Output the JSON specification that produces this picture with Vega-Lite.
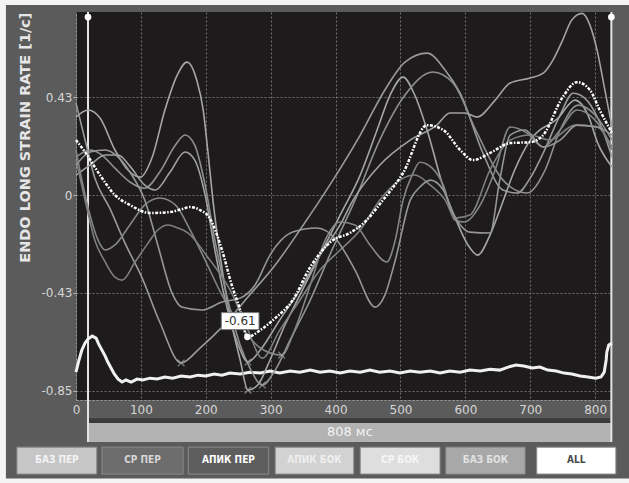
{
"$schema": "https://vega.github.io/schema/vega-lite/v6.json",
"width": 536, "height": 388,
"autosize": {"type": "none"},
"padding": {"left": 76, "top": 12, "right": 17, "bottom": 83},
"background": "#5b5b5b",
"config": {"view": {"fill": "#1e1b1c", "stroke": null}, "font": "DejaVu Sans"},
"datasets": {
"margins": [{"t": -130, "t2": 880, "v": 0.826, "v2": 0.95}, {"t": -130, "t2": -108, "v": 0.95, "v2": -1.35}, {"t": -130, "t2": 880, "v": -1.232, "v2": -1.35}],
"band": [{"t": 18.5, "t2": 826, "v": -0.970, "v2": -0.991}],
"bar": [{"t": 18.5, "t2": 826, "v": -0.991, "v2": -1.074}],
"barText": [{"t": 422, "v": -1.032, "label": "808 мс"}],
"buttons": [
{"name": "БАЗ ПЕР", "t": -91, "t2": 32, "v": -1.096, "v2": -1.213},
{"name": "СР ПЕР", "t": 40, "t2": 165, "v": -1.096, "v2": -1.213},
{"name": "АПИК ПЕР", "t": 173, "t2": 297, "v": -1.096, "v2": -1.213},
{"name": "АПИК БОК", "t": 307, "t2": 428, "v": -1.096, "v2": -1.213},
{"name": "СР БОК", "t": 438, "t2": 561, "v": -1.096, "v2": -1.213},
{"name": "БАЗ БОК", "t": 570, "t2": 692, "v": -1.096, "v2": -1.213},
{"name": "ALL", "t": 710, "t2": 832, "v": -1.096, "v2": -1.213}],
"buttonLabels": [
{"name": "БАЗ ПЕР", "t": -29.5, "v": -1.154},
{"name": "СР ПЕР", "t": 102.5, "v": -1.154},
{"name": "АПИК ПЕР", "t": 235, "v": -1.154},
{"name": "АПИК БОК", "t": 367.5, "v": -1.154},
{"name": "СР БОК", "t": 499.5, "v": -1.154},
{"name": "БАЗ БОК", "t": 631, "v": -1.154},
{"name": "ALL", "t": 771, "v": -1.154}],
"cursors": [{"t": 18.5, "v": 0.796, "v2": -1.074}, {"t": 825, "v": 0.796, "v2": -1.074}],
"cursorDots": [{"t": 18.5, "v": 0.774}, {"t": 825, "v": 0.774}],
"ecg": [
{"t":0,"v":-0.770},{"t":4.6,"v":-0.717},{"t":9,"v":-0.674},{"t":14,"v":-0.643},{"t":18.5,"v":-0.626},{"t":25,"v":-0.613},{"t":31,"v":-0.622},{"t":35,"v":-0.648},{"t":40,"v":-0.674},{"t":45,"v":-0.700},{"t":49,"v":-0.726},{"t":54,"v":-0.752},{"t":59,"v":-0.778},{"t":65,"v":-0.800},{"t":71,"v":-0.813},{"t":77,"v":-0.804},{"t":85,"v":-0.813},{"t":94,"v":-0.800},{"t":103,"v":-0.804},{"t":114,"v":-0.796},{"t":125,"v":-0.800},{"t":137,"v":-0.791},{"t":149,"v":-0.796},{"t":162,"v":-0.787},{"t":176,"v":-0.791},{"t":188,"v":-0.783},{"t":200,"v":-0.787},{"t":213,"v":-0.778},{"t":225,"v":-0.783},{"t":237,"v":-0.774},{"t":253,"v":-0.778},{"t":268,"v":-0.770},{"t":284,"v":-0.774},{"t":299,"v":-0.765},{"t":314,"v":-0.774},{"t":330,"v":-0.765},{"t":345,"v":-0.770},{"t":361,"v":-0.761},{"t":376,"v":-0.770},{"t":391,"v":-0.765},{"t":407,"v":-0.774},{"t":422,"v":-0.765},{"t":438,"v":-0.770},{"t":453,"v":-0.761},{"t":468,"v":-0.770},{"t":484,"v":-0.765},{"t":499,"v":-0.774},{"t":515,"v":-0.765},{"t":530,"v":-0.770},{"t":546,"v":-0.765},{"t":561,"v":-0.774},{"t":576,"v":-0.765},{"t":592,"v":-0.770},{"t":607,"v":-0.761},{"t":623,"v":-0.765},{"t":638,"v":-0.757},{"t":653,"v":-0.761},{"t":666,"v":-0.748},{"t":678,"v":-0.739},{"t":690,"v":-0.743},{"t":703,"v":-0.752},{"t":715,"v":-0.748},{"t":727,"v":-0.761},{"t":740,"v":-0.765},{"t":752,"v":-0.774},{"t":764,"v":-0.778},{"t":777,"v":-0.787},{"t":789,"v":-0.791},{"t":801,"v":-0.796},{"t":809,"v":-0.791},{"t":814,"v":-0.770},{"t":817,"v":-0.717},{"t":818,"v":-0.683},{"t":821,"v":-0.652},{"t":826,"v":-0.643}],
"curves": [
{"s":"c1","t":0,"v":0.400},{"s":"c1","t":14,"v":0.239},{"s":"c1","t":29,"v":0.074},{"s":"c1","t":52,"v":-0.057},{"s":"c1","t":75.5,"v":-0.209},{"s":"c1","t":102,"v":-0.361},{"s":"c1","t":129,"v":-0.552},{"s":"c1","t":162,"v":-0.730},{"s":"c1","t":191,"v":-0.665},{"s":"c1","t":225,"v":-0.574},{"s":"c1","t":265,"v":-0.443},{"s":"c1","t":307,"v":-0.304},{"s":"c1","t":345,"v":-0.152},{"s":"c1","t":391,"v":0.043},{"s":"c1","t":438,"v":0.261},{"s":"c1","t":476,"v":0.457},{"s":"c1","t":507,"v":0.578},{"s":"c1","t":541,"v":0.617},{"s":"c1","t":569,"v":0.543},{"s":"c1","t":592,"v":0.443},{"s":"c1","t":627,"v":0.183},{"s":"c1","t":658,"v":0.022},{"s":"c1","t":680,"v":0.009},{"s":"c1","t":700,"v":0.074},{"s":"c1","t":720,"v":0.183},{"s":"c1","t":746,"v":0.348},{"s":"c1","t":766,"v":0.443},{"s":"c1","t":784,"v":0.422},{"s":"c1","t":804,"v":0.335},{"s":"c1","t":826,"v":0.165},
{"s":"c2","t":0,"v":0.339},{"s":"c2","t":18.5,"v":0.370},{"s":"c2","t":37,"v":0.335},{"s":"c2","t":60,"v":0.196},{"s":"c2","t":80,"v":0.109},{"s":"c2","t":99,"v":0.078},{"s":"c2","t":117,"v":0.161},{"s":"c2","t":137,"v":0.370},{"s":"c2","t":156,"v":0.522},{"s":"c2","t":171,"v":0.578},{"s":"c2","t":186,"v":0.500},{"s":"c2","t":196,"v":0.370},{"s":"c2","t":203,"v":0.196},{"s":"c2","t":211,"v":-0.022},{"s":"c2","t":222,"v":-0.261},{"s":"c2","t":237,"v":-0.522},{"s":"c2","t":253,"v":-0.717},{"s":"c2","t":265,"v":-0.848},{"s":"c2","t":280,"v":-0.826},{"s":"c2","t":299,"v":-0.717},{"s":"c2","t":322,"v":-0.565},{"s":"c2","t":345,"v":-0.435},{"s":"c2","t":376,"v":-0.261},{"s":"c2","t":407,"v":-0.087},{"s":"c2","t":438,"v":0.087},{"s":"c2","t":464,"v":0.283},{"s":"c2","t":484,"v":0.435},{"s":"c2","t":504,"v":0.513},{"s":"c2","t":522,"v":0.435},{"s":"c2","t":541,"v":0.283},{"s":"c2","t":566,"v":0.035},{"s":"c2","t":587,"v":-0.117},{"s":"c2","t":604,"v":-0.217},{"s":"c2","t":619,"v":-0.261},{"s":"c2","t":638,"v":-0.174},{"s":"c2","t":656,"v":-0.043},{"s":"c2","t":676,"v":0.109},{"s":"c2","t":700,"v":0.239},{"s":"c2","t":743,"v":0.335},{"s":"c2","t":769,"v":0.413},{"s":"c2","t":789,"v":0.348},{"s":"c2","t":804,"v":0.226},{"s":"c2","t":826,"v":0.122},
{"s":"c3","t":0,"v":0.165},{"s":"c3","t":21.6,"v":0.196},{"s":"c3","t":40,"v":0.174},{"s":"c3","t":60,"v":0.117},{"s":"c3","t":83,"v":0.057},{"s":"c3","t":106,"v":0.030},{"s":"c3","t":129,"v":0.100},{"s":"c3","t":153,"v":0.217},{"s":"c3","t":168,"v":0.261},{"s":"c3","t":183,"v":0.217},{"s":"c3","t":199,"v":0.043},{"s":"c3","t":214,"v":-0.196},{"s":"c3","t":234,"v":-0.457},{"s":"c3","t":253,"v":-0.652},{"s":"c3","t":268,"v":-0.752},{"s":"c3","t":287,"v":-0.826},{"s":"c3","t":307,"v":-0.761},{"s":"c3","t":330,"v":-0.630},{"s":"c3","t":361,"v":-0.457},{"s":"c3","t":391,"v":-0.261},{"s":"c3","t":430,"v":-0.022},{"s":"c3","t":468,"v":0.239},{"s":"c3","t":507,"v":0.435},{"s":"c3","t":550,"v":0.535},{"s":"c3","t":581,"v":0.487},{"s":"c3","t":618,"v":0.270},{"s":"c3","t":658,"v":0.065},{"s":"c3","t":695,"v":0.009},{"s":"c3","t":723,"v":0.109},{"s":"c3","t":746,"v":0.283},{"s":"c3","t":774,"v":0.391},{"s":"c3","t":800,"v":0.348},{"s":"c3","t":826,"v":0.239},
{"s":"c4","t":0,"v":0.087},{"s":"c4","t":21.6,"v":0.130},{"s":"c4","t":45,"v":0.174},{"s":"c4","t":65,"v":0.174},{"s":"c4","t":83,"v":0.126},{"s":"c4","t":106,"v":0.043},{"s":"c4","t":122,"v":0.022},{"s":"c4","t":145,"v":0.100},{"s":"c4","t":168,"v":0.187},{"s":"c4","t":183,"v":0.152},{"s":"c4","t":199,"v":0.0},{"s":"c4","t":214,"v":-0.239},{"s":"c4","t":230,"v":-0.457},{"s":"c4","t":250,"v":-0.652},{"s":"c4","t":265,"v":-0.726},{"s":"c4","t":284,"v":-0.674},{"s":"c4","t":314,"v":-0.543},{"s":"c4","t":345,"v":-0.413},{"s":"c4","t":376,"v":-0.261},{"s":"c4","t":407,"v":-0.130},{"s":"c4","t":427,"v":-0.022},{"s":"c4","t":468,"v":0.130},{"s":"c4","t":515,"v":0.239},{"s":"c4","t":556,"v":0.304},{"s":"c4","t":576,"v":0.357},{"s":"c4","t":599,"v":0.357},{"s":"c4","t":618,"v":0.339},{"s":"c4","t":646,"v":0.413},{"s":"c4","t":669,"v":0.487},{"s":"c4","t":700,"v":0.509},{"s":"c4","t":720,"v":0.530},{"s":"c4","t":735,"v":0.587},{"s":"c4","t":750,"v":0.674},{"s":"c4","t":764,"v":0.761},{"s":"c4","t":780,"v":0.790},{"s":"c4","t":792,"v":0.739},{"s":"c4","t":803,"v":0.630},{"s":"c4","t":815,"v":0.457},{"s":"c4","t":826,"v":0.296},
{"s":"c5","t":0,"v":0.196},{"s":"c5","t":9,"v":0.065},{"s":"c5","t":21.6,"v":-0.087},{"s":"c5","t":34,"v":-0.196},{"s":"c5","t":45,"v":-0.239},{"s":"c5","t":60,"v":-0.217},{"s":"c5","t":83,"v":-0.130},{"s":"c5","t":106,"v":-0.043},{"s":"c5","t":129,"v":-0.013},{"s":"c5","t":153,"v":-0.043},{"s":"c5","t":176,"v":-0.152},{"s":"c5","t":199,"v":-0.283},{"s":"c5","t":225,"v":-0.435},{"s":"c5","t":253,"v":-0.565},{"s":"c5","t":284,"v":-0.665},{"s":"c5","t":317,"v":-0.696},{"s":"c5","t":337,"v":-0.587},{"s":"c5","t":361,"v":-0.391},{"s":"c5","t":384,"v":-0.196},{"s":"c5","t":407,"v":-0.117},{"s":"c5","t":430,"v":-0.130},{"s":"c5","t":453,"v":-0.217},{"s":"c5","t":479,"v":-0.291},{"s":"c5","t":492,"v":-0.196},{"s":"c5","t":504,"v":-0.022},{"s":"c5","t":518,"v":0.087},{"s":"c5","t":530,"v":0.143},{"s":"c5","t":549,"v":0.117},{"s":"c5","t":566,"v":0.043},{"s":"c5","t":584,"v":-0.109},{"s":"c5","t":599,"v":-0.117},{"s":"c5","t":623,"v":-0.043},{"s":"c5","t":646,"v":0.109},{"s":"c5","t":669,"v":0.296},{"s":"c5","t":695,"v":0.270},{"s":"c5","t":720,"v":0.209},{"s":"c5","t":746,"v":0.283},{"s":"c5","t":772,"v":0.370},{"s":"c5","t":800,"v":0.326},{"s":"c5","t":826,"v":0.209},
{"s":"c6","t":0,"v":0.152},{"s":"c6","t":14,"v":-0.022},{"s":"c6","t":29,"v":-0.196},{"s":"c6","t":45,"v":-0.291},{"s":"c6","t":60,"v":-0.357},{"s":"c6","t":71,"v":-0.370},{"s":"c6","t":91,"v":-0.291},{"s":"c6","t":111,"v":-0.209},{"s":"c6","t":126,"v":-0.152},{"s":"c6","t":142,"v":-0.130},{"s":"c6","t":157,"v":-0.143},{"s":"c6","t":173,"v":-0.165},{"s":"c6","t":203,"v":-0.270},{"s":"c6","t":240,"v":-0.426},{"s":"c6","t":265,"v":-0.587},{"s":"c6","t":287,"v":-0.709},{"s":"c6","t":314,"v":-0.587},{"s":"c6","t":345,"v":-0.457},{"s":"c6","t":376,"v":-0.326},{"s":"c6","t":407,"v":-0.239},{"s":"c6","t":438,"v":-0.152},{"s":"c6","t":468,"v":-0.022},{"s":"c6","t":499,"v":0.065},{"s":"c6","t":522,"v":0.087},{"s":"c6","t":546,"v":0.043},{"s":"c6","t":569,"v":-0.022},{"s":"c6","t":584,"v":-0.100},{"s":"c6","t":607,"v":-0.087},{"s":"c6","t":638,"v":0.109},{"s":"c6","t":669,"v":0.239},{"s":"c6","t":700,"v":0.261},{"s":"c6","t":730,"v":0.239},{"s":"c6","t":769,"v":0.304},{"s":"c6","t":803,"v":0.296},{"s":"c6","t":826,"v":0.196},
{"s":"c7","t":0,"v":0.130},{"s":"c7","t":21.6,"v":0.187},{"s":"c7","t":45,"v":0.196},{"s":"c7","t":65,"v":0.165},{"s":"c7","t":86,"v":0.087},{"s":"c7","t":106,"v":-0.022},{"s":"c7","t":126,"v":-0.217},{"s":"c7","t":148,"v":-0.426},{"s":"c7","t":163,"v":-0.487},{"s":"c7","t":194,"v":-0.500},{"s":"c7","t":225,"v":-0.465},{"s":"c7","t":253,"v":-0.448},{"s":"c7","t":276,"v":-0.391},{"s":"c7","t":299,"v":-0.261},{"s":"c7","t":334,"v":-0.161},{"s":"c7","t":371,"v":-0.143},{"s":"c7","t":402,"v":-0.196},{"s":"c7","t":430,"v":-0.326},{"s":"c7","t":461,"v":-0.487},{"s":"c7","t":476,"v":-0.435},{"s":"c7","t":492,"v":-0.283},{"s":"c7","t":515,"v":-0.022},{"s":"c7","t":530,"v":0.035},{"s":"c7","t":546,"v":0.065},{"s":"c7","t":566,"v":0.022},{"s":"c7","t":581,"v":-0.078},{"s":"c7","t":607,"v":-0.161},{"s":"c7","t":638,"v":-0.165},{"s":"c7","t":653,"v":0.065},{"s":"c7","t":669,"v":0.261},{"s":"c7","t":692,"v":0.283},{"s":"c7","t":720,"v":0.209},{"s":"c7","t":746,"v":0.239},{"s":"c7","t":772,"v":0.304},{"s":"c7","t":803,"v":0.296},{"s":"c7","t":826,"v":0.261}],
"mean": [
{"t":0,"v":0.239},{"t":14,"v":0.187},{"t":37,"v":0.087},{"t":60,"v":0.0},{"t":83,"v":-0.043},{"t":114,"v":-0.078},{"t":145,"v":-0.074},{"t":163,"v":-0.061},{"t":176,"v":-0.052},{"t":191,"v":-0.065},{"t":206,"v":-0.100},{"t":225,"v":-0.239},{"t":240,"v":-0.391},{"t":253,"v":-0.500},{"t":264,"v":-0.617},{"t":284,"v":-0.587},{"t":307,"v":-0.535},{"t":334,"v":-0.457},{"t":361,"v":-0.313},{"t":396,"v":-0.196},{"t":422,"v":-0.165},{"t":445,"v":-0.117},{"t":473,"v":-0.022},{"t":504,"v":0.096},{"t":541,"v":0.304},{"t":566,"v":0.283},{"t":592,"v":0.196},{"t":612,"v":0.152},{"t":638,"v":0.183},{"t":669,"v":0.226},{"t":700,"v":0.230},{"t":720,"v":0.261},{"t":750,"v":0.426},{"t":772,"v":0.491},{"t":792,"v":0.457},{"t":807,"v":0.370},{"t":826,"v":0.270}],
"minima": [{"t":162,"v":-0.730},{"t":265,"v":-0.726},{"t":265,"v":-0.848},{"t":317,"v":-0.696},{"t":287,"v":-0.826}],
"meanMin": [{"t":264,"v":-0.617}],
"minLabelBox": [{"t":224,"t2":282,"v":-0.511,"v2":-0.585}],
"minLabel": [{"t":253,"v":-0.548,"label":"-0.61"}]
},
"encoding": {
"x": {"field": "t", "type": "quantitative", "scale": {"domain": [0, 826], "nice": false, "zero": false},
 "axis": {"title": null, "values": [0,100,200,300,400,500,600,700,800], "grid": true, "gridColor": "#707070", "gridDash": [2,2], "gridWidth": 1, "domain": true, "domainColor": "#a0a0a0", "domainDash": [2,2], "ticks": false, "labelColor": "#d6d6d6", "labelFontSize": 12, "labelFont": "DejaVu Sans", "labelPadding": 4, "labelFlush": false, "labelOverlap": false}},
"y": {"field": "v", "type": "quantitative", "scale": {"domain": [-0.891, 0.796], "nice": false, "zero": false},
 "axis": {"title": "ENDO LONG STRAIN RATE [1/c]", "values": [0.425, 0, -0.425, -0.85], "labelExpr": "datum.value > 0.2 ? '0.43' : datum.value > -0.2 ? '0' : datum.value > -0.6 ? '-0.43' : '-0.85'", "grid": true, "gridColor": "#707070", "gridDash": [2,2], "gridWidth": 1, "domain": true, "domainColor": "#a0a0a0", "domainDash": [2,2], "ticks": true, "tickSize": 3, "tickColor": "#bcbcbc", "labelColor": "#d6d6d6", "labelFontSize": 12, "labelFont": "DejaVu Sans", "labelPadding": 1, "labelOverlap": false, "titleColor": "#e6e6e6", "titleFont": "DejaVu Sans", "titleFontSize": 14.5, "titleFontWeight": "bold", "titleAngle": -90, "titleX": -51, "titleY": 0, "titleAlign": "right", "titleBaseline": "middle"}}
},
"resolve": {"scale": {"color": "independent"}},
"layer": [
{"data": {"name": "margins"}, "mark": {"type": "rect", "fill": "#f4f4f4"}, "encoding": {"x2": {"field": "t2"}, "y2": {"field": "v2"}}},
{"data": {"name": "band"}, "mark": {"type": "rect", "fill": "#3a3a3a"}, "encoding": {"x2": {"field": "t2"}, "y2": {"field": "v2"}}},
{"data": {"name": "bar"}, "mark": {"type": "rect", "fill": "#b3b3b3"}, "encoding": {"x2": {"field": "t2"}, "y2": {"field": "v2"}}},
{"data": {"name": "barText"}, "mark": {"type": "text", "color": "#f2f2f2", "fontSize": 13, "font": "DejaVu Sans", "align": "center", "baseline": "middle"}, "encoding": {"text": {"field": "label"}}},
{"data": {"name": "buttons"}, "mark": {"type": "rect", "stroke": "#8a8a8a", "strokeWidth": 1},
 "encoding": {"x2": {"field": "t2"}, "y2": {"field": "v2"},
  "fill": {"field": "name", "type": "nominal", "legend": null, "scale": {"domain": ["БАЗ ПЕР","СР ПЕР","АПИК ПЕР","АПИК БОК","СР БОК","БАЗ БОК","ALL"], "range": ["#c6c6c6","#6c6c6c","#5e5e5e","#d2d2d2","#dedede","#a8a8a8","#ffffff"]}}}},
{"data": {"name": "buttonLabels"}, "mark": {"type": "text", "fontSize": 10, "fontWeight": "bold", "font": "DejaVu Sans Condensed", "align": "center", "baseline": "middle"},
 "encoding": {"text": {"field": "name"},
  "color": {"field": "name", "type": "nominal", "legend": null, "scale": {"domain": ["БАЗ ПЕР","СР ПЕР","АПИК ПЕР","АПИК БОК","СР БОК","БАЗ БОК","ALL"], "range": ["#f4f4f4","#d6d6d6","#ffffff","#efefef","#f6f6f6","#e2e2e2","#4a4a4a"]}}}},
{"data": {"name": "cursors"}, "mark": {"type": "rule", "color": "#e4e4e4", "strokeWidth": 2}, "encoding": {"y2": {"field": "v2"}}},
{"data": {"name": "cursorDots"}, "mark": {"type": "point", "filled": true, "color": "#ffffff", "size": 45, "opacity": 1}, "encoding": {}},
{"data": {"name": "ecg"}, "mark": {"type": "line", "color": "#f0f0f0", "strokeWidth": 3, "interpolate": "linear"}, "encoding": {}},
{"data": {"name": "curves"}, "mark": {"type": "line", "strokeWidth": 1.6, "interpolate": "monotone"},
 "encoding": {"detail": {"field": "s"}, "color": {"field": "s", "type": "nominal", "legend": null, "scale": {"domain": ["c1","c2","c3","c4","c5","c6","c7"], "range": ["#9a9a9a","#a6a6a6","#8f8f8f","#a2a2a2","#858585","#7e7e7e","#969696"]}}}},
{"data": {"name": "mean"}, "mark": {"type": "line", "color": "#ffffff", "strokeWidth": 2.5, "strokeDash": [3, 1.5, 1.5, 1.5], "interpolate": "monotone"}, "encoding": {}},
{"data": {"name": "minima"}, "mark": {"type": "point", "shape": "M-1,-1L1,1M1,-1L-1,1", "size": 45, "filled": false, "color": "#a4a4a4", "strokeWidth": 1.3}, "encoding": {}},
{"data": {"name": "meanMin"}, "mark": {"type": "point", "shape": "circle", "size": 40, "filled": true, "color": "#ffffff", "opacity": 1}, "encoding": {}},
{"data": {"name": "minLabelBox"}, "mark": {"type": "rect", "fill": "#ffffff", "stroke": "#7a7a7a", "strokeWidth": 1}, "encoding": {"x2": {"field": "t2"}, "y2": {"field": "v2"}}},
{"data": {"name": "minLabel"}, "mark": {"type": "text", "color": "#333333", "fontSize": 12, "font": "DejaVu Sans", "align": "center", "baseline": "middle"}, "encoding": {"text": {"field": "label"}}}
]
}
